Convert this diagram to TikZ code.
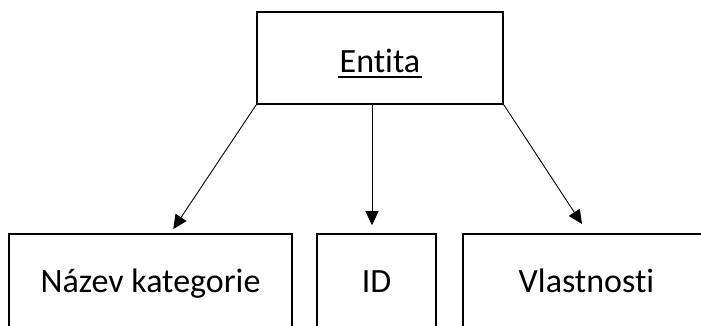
\documentclass[tikz,border=0pt]{standalone}
\usepackage{fontspec}
\setmainfont[Ligatures={NoCommon}]{Carlito}
\usetikzlibrary{arrows.meta}
\tikzset{
  box/.style={draw,line width=1.6pt,inner sep=0pt,anchor=base,font=\fontsize{34}{40}\selectfont},
  lowbox/.style={box,text height=58pt,text depth=48pt},
  arr/.style={line width=0.9pt,-{Triangle[length=14pt,width=13pt]}}
}
\newcommand\entul[1]{\sbox0{#1}\rlap{\kern-1.5pt\rule[-6pt]{\dimexpr\wd0+3pt\relax}{2pt}}\box0}

\begin{document}
\begin{tikzpicture}[x=1pt,y=1pt]
  \clip (0,0) rectangle (701,325);
  \node[box,text height=60pt,text depth=32pt,minimum width=246pt] (entita) at (380,253) {\entul{Entita}};
  \node[lowbox,minimum width=283pt] (nazev) at (150.5,33) {Název kategorie};
  \node[lowbox,minimum width=119pt] (id) at (376.5,33) {ID};
  \node[lowbox,minimum width=247pt] (vlast) at (586.5,33) {Vlastnosti};
  % arrows to the attribute boxes
  \draw[arr,shorten >=5pt] (entita.south west) -- ([xshift=20pt]nazev.north);
  \draw[arr,shorten >=8pt] ([xshift=-8pt]entita.south) -- ([xshift=-4.5pt]id.north);
  \draw[arr,shorten >=11pt] (entita.south east) -- ([xshift=1.5pt]vlast.north);
\end{tikzpicture}
\end{document}
